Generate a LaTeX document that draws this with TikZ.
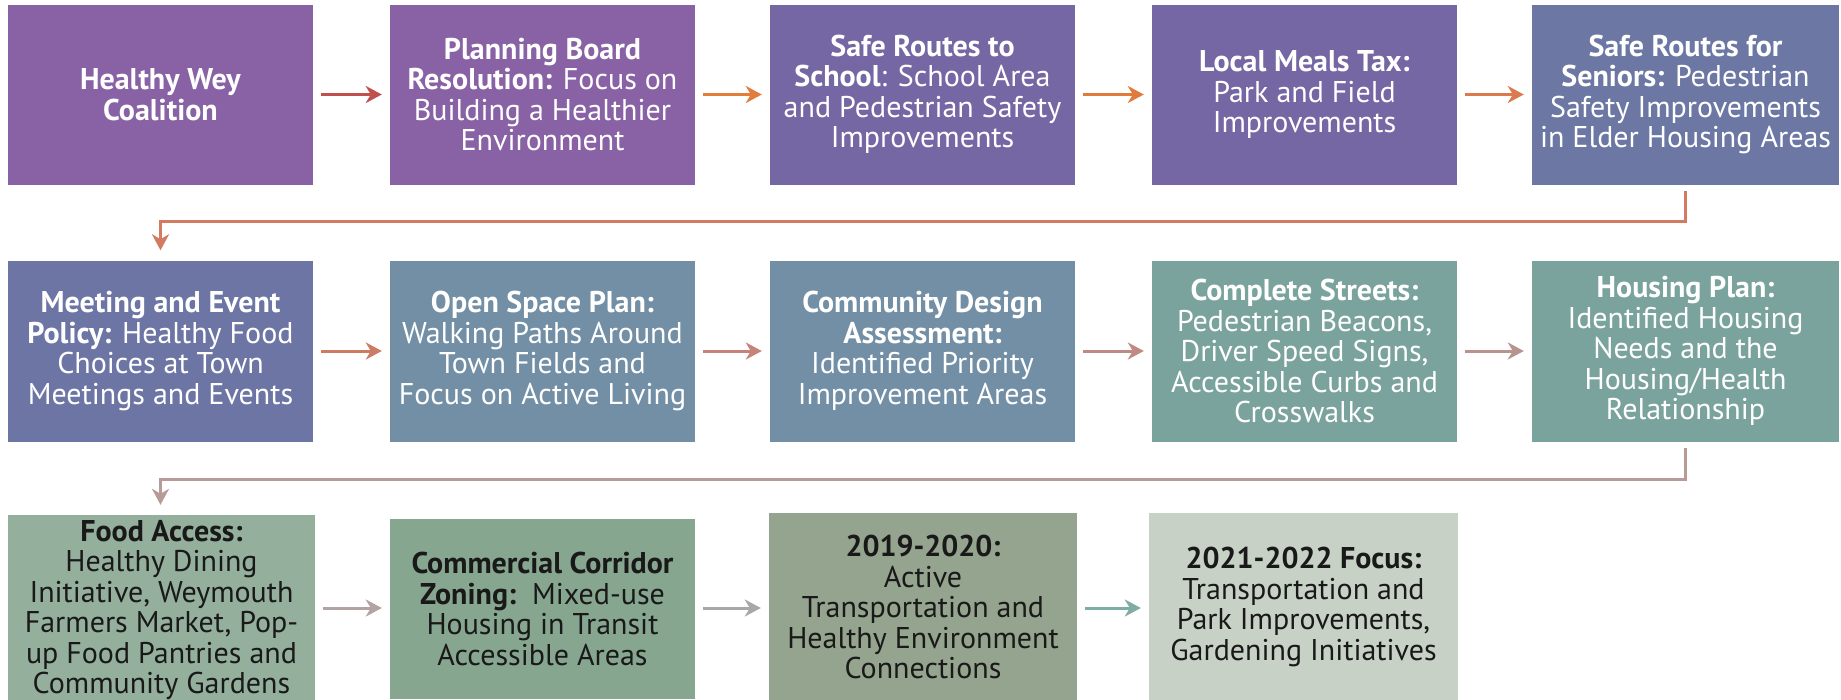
\documentclass[tikz,border=0pt]{standalone}
\usepackage{fontspec}
\setmainfont{PT Sans}
\usetikzlibrary{arrows.meta}
\definecolor{cA}{HTML}{8862A4}
\definecolor{cB}{HTML}{7467A4}
\definecolor{cC}{HTML}{6C77A3}
\definecolor{cD}{HTML}{6D75A4}
\definecolor{cE}{HTML}{728FA5}
\definecolor{cF}{HTML}{7BA39D}
\definecolor{cG}{HTML}{94B09C}
\definecolor{cH}{HTML}{87A690}
\definecolor{cI}{HTML}{95A48E}
\definecolor{cJ}{HTML}{C7D1C5}
\definecolor{k1}{HTML}{C0504D}
\definecolor{k2}{HTML}{E27D3B}
\definecolor{k3}{HTML}{E07B3E}
\definecolor{k4}{HTML}{D97A4F}
\definecolor{k5}{HTML}{D37B60}
\definecolor{k6}{HTML}{CC7B65}
\definecolor{k7}{HTML}{C7827A}
\definecolor{k8}{HTML}{C08A84}
\definecolor{k9}{HTML}{B89491}
\definecolor{k10}{HTML}{B89B99}
\definecolor{k11}{HTML}{B4A3A3}
\definecolor{k12}{HTML}{A8A8A8}
\definecolor{k13}{HTML}{7EADA5}
\begin{document}
\begin{tikzpicture}[x=1pt,y=-1pt,
  box/.style={draw=none, inner sep=0pt, minimum width=305pt, minimum height=180pt,
    align=center, text=white, font=\fontsize{30}{30.5}\selectfont},
  dbox/.style={box, text=black!90},
  arr/.style={line width=3pt, -{Stealth[length=16pt,width=17pt,inset=5pt]}, shorten <=8pt, shorten >=8pt},
  conn/.style={line width=3pt, -{Stealth[length=16pt,width=17pt,inset=5pt]}, shorten <=6pt, shorten >=10pt}]
\clip (0,0) rectangle (1841,699);
\fill[white] (0,0) rectangle (1841,699);
% row 1
\node[box, fill=cA] (a1) at (160.5,94.5) {\textbf{Healthy Wey}\\\textbf{Coalition}};
\node[box, fill=cA] (a2) at (542.5,94.5) {\textbf{Planning Board}\\\textbf{Resolution:} Focus on\\Building a Healthier\\Environment};
\node[box, fill=cB] (a3) at (922.5,94.5) {\textbf{Safe Routes to}\\\textbf{School}: School Area\\and Pedestrian Safety\\Improvements};
\node[box, fill=cB] (a4) at (1304.5,94.5) {\textbf{Local Meals Tax:}\\Park and Field\\Improvements};
\node[box, fill=cC, minimum width=307pt] (a5) at (1685.5,94.5) {\textbf{Safe Routes for}\\\textbf{Seniors:} Pedestrian\\Safety Improvements\\in Elder Housing Areas};
% row 2
\node[box, fill=cD, minimum height=181pt] (b1) at (160.5,351) {\textbf{Meeting and Event}\\\textbf{Policy:} Healthy Food\\Choices at Town\\Meetings and Events};
\node[box, fill=cE, minimum height=181pt] (b2) at (542.5,351) {\textbf{Open Space Plan:}\\Walking Paths Around\\Town Fields and\\Focus on Active Living};
\node[box, fill=cE, minimum height=181pt] (b3) at (922.5,351) {\textbf{Community Design}\\\textbf{Assessment:}\\Identified Priority\\Improvement Areas};
\node[box, fill=cF, minimum height=181pt] (b4) at (1304.5,351) {\textbf{Complete Streets:}\\Pedestrian Beacons,\\Driver Speed Signs,\\Accessible Curbs and\\Crosswalks};
\node[box, fill=cF, minimum height=181pt, minimum width=307pt] (b5) at (1685.5,351) {\textbf{Housing Plan:}\\Identified Housing\\Needs and the\\Housing/Health\\Relationship};
% row 3
\node[dbox, fill=cG, minimum width=307pt, minimum height=190pt] (c1) at (161.5,610) {\textbf{Food Access:}\\Healthy Dining\\Initiative, Weymouth\\Farmers Market, Pop-\\up Food Pantries and\\Community Gardens};
\node[dbox, fill=cH] (c2) at (542.5,609) {\textbf{Commercial Corridor}\\\textbf{Zoning:}\ \ Mixed-use\\Housing in Transit\\Accessible Areas};
\node[dbox, fill=cI, minimum width=308pt, minimum height=188pt] (c3) at (923,607) {\textbf{2019-2020:}\\Active\\Transportation and\\Healthy Environment\\Connections};
\node[dbox, fill=cJ, minimum width=309pt, minimum height=188pt] (c4) at (1303.5,607) {\textbf{2021-2022 Focus:}\\Transportation and\\Park Improvements,\\Gardening Initiatives};
% arrows row 1
\draw[arr, k1] (a1.east) -- (a2.west);
\draw[arr, k2] (a2.east) -- (a3.west);
\draw[arr, k3] (a3.east) -- (a4.west);
\draw[arr, k4] (a4.east) -- (a5.west);
% connector 1
\coordinate (j1) at (160.5,221);
\draw[conn, k5] (a5.south) |- (j1) -- (b1.north);
% arrows row 2
\draw[arr, k6] (b1.east) -- (b2.west);
\draw[arr, k7] (b2.east) -- (b3.west);
\draw[arr, k8] (b3.east) -- (b4.west);
\draw[arr, k9] (b4.east) -- (b5.west);
% connector 2
\coordinate (j2) at (160.5,479);
\draw[conn, k10] (b5.south) |- (j2) -- (j2 |- c1.north);
% arrows row 3
\coordinate (r3) at (0,608);
\draw[arr, k11] (c1.east |- r3) -- (c2.west |- r3);
\draw[arr, k12] (c2.east |- r3) -- (c3.west |- r3);
\draw[arr, k13] (c3.east |- r3) -- (c4.west |- r3);
\end{tikzpicture}
\end{document}
